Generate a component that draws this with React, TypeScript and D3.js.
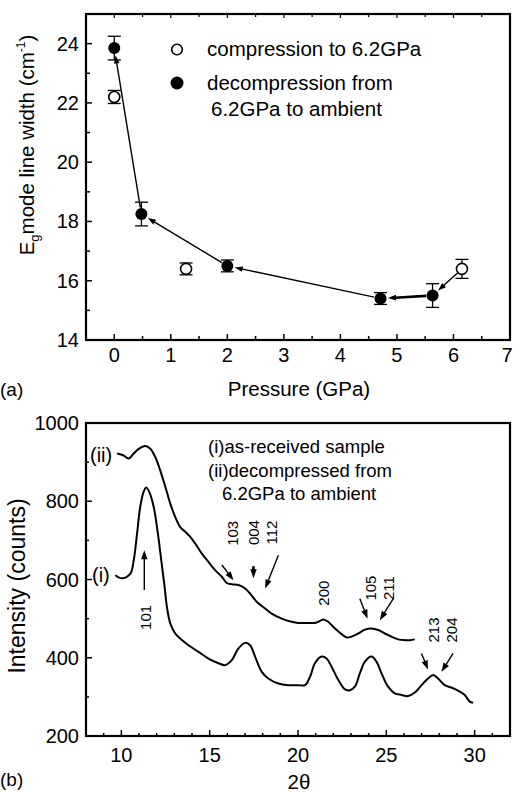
import * as d3 from "d3";
import React from "react";

// (a) E_g line width vs pressure
const pressureOpen = [0, 1.27, 6.15];
const widthOpen = [22.2, 16.4, 16.4];
const errOpen = [0.22, 0.2, 0.32];

const pressureFilled = [0, 0.48, 2.0, 4.71, 5.63];
const widthFilled = [23.85, 18.25, 16.5, 15.4, 15.5];
const errFilled = [0.4, 0.4, 0.2, 0.2, 0.4];

const xTicksA = [0, 1, 2, 3, 4, 5, 6, 7];
const yTicksA = [14, 16, 18, 20, 22, 24];

// (b) XRD patterns
const thetaI = [9.66, 10.04, 10.51, 10.7, 10.89, 11.07, 11.26, 11.41, 11.58, 11.83, 12.07, 12.26, 12.45, 12.58, 12.77, 13.05, 13.33, 13.8, 14.37, 14.93, 15.5, 15.88, 16.25, 16.63, 17.01, 17.29, 17.57, 17.95, 18.32, 18.89, 19.45, 20.02, 20.4, 20.68, 20.96, 21.34, 21.62, 21.9, 22.28, 22.66, 22.94, 23.22, 23.5, 23.79, 24.16, 24.44, 24.73, 25.1, 25.48, 25.86, 26.23, 26.61, 26.99, 27.36, 27.65, 27.93, 28.31, 28.68, 29.06, 29.44, 29.72, 29.91];
const countsI = [611, 603, 615, 649, 717, 786, 824, 835, 824, 786, 717, 649, 581, 530, 488, 462, 449, 432, 415, 398, 386, 381, 394, 424, 438, 432, 403, 364, 347, 334, 330, 330, 330, 351, 386, 403, 398, 377, 343, 319, 317, 326, 360, 390, 403, 390, 360, 326, 309, 305, 302, 311, 330, 347, 356, 347, 330, 324, 316, 305, 288, 285];

const thetaII = [9.76, 10.13, 10.41, 10.7, 10.98, 11.36, 11.64, 11.92, 12.2, 12.49, 12.77, 13.05, 13.33, 13.62, 13.9, 14.18, 14.56, 14.93, 15.31, 15.69, 15.97, 16.25, 16.63, 17.01, 17.29, 17.66, 18.14, 18.51, 19.08, 19.64, 20.02, 20.58, 20.96, 21.24, 21.43, 21.71, 21.99, 22.37, 22.75, 23.03, 23.41, 23.79, 24.16, 24.54, 24.92, 25.29, 25.67, 26.05, 26.33, 26.61];
const countsII = [922, 917, 909, 922, 934, 941, 934, 913, 879, 837, 794, 760, 734, 722, 709, 692, 666, 645, 624, 607, 591, 588, 586, 577, 564, 543, 526, 513, 500, 492, 489, 489, 489, 494, 498, 492, 479, 464, 452, 454, 462, 472, 475, 471, 462, 454, 447, 445, 445, 447];

const xTicksB = [10, 15, 20, 25, 30];
const yTicksB = [200, 400, 600, 800, 1000];

const peakLabels = ["101", "103", "004", "112", "200", "105", "211", "213", "204"];
const peakLabelX = [11.34, 16.28, 17.47, 18.51, 21.43, 24.08, 25.11, 27.66, 28.7];
const peakLabelY = [503, 718, 720, 720, 565, 578, 578, 471, 471];
// arrows: [x1, y1, x2, y2] in data units, head at (x2, y2)
const peakArrows = [
  [11.3, 573, 11.3, 675],
  [15.69, 637, 16.35, 598],
  [17.48, 634, 17.48, 603],
  [18.89, 662, 18.14, 577],
  [23.5, 551, 23.94, 500],
  [25.39, 551, 24.63, 496],
  [26.99, 411, 27.36, 370],
  [28.78, 411, 28.12, 364],
];

const FONT = "'Liberation Sans', Arial, sans-serif";

function arrowHead(x1: number, y1: number, x2: number, y2: number, len = 8, half = 3) {
  const a = Math.atan2(y2 - y1, x2 - x1);
  const bx = x2 - len * Math.cos(a);
  const by = y2 - len * Math.sin(a);
  const px = -Math.sin(a) * half;
  const py = Math.cos(a) * half;
  return `M${x2},${y2}L${bx + px},${by + py}L${bx - px},${by - py}Z`;
}

function Arrow({ x1, y1, x2, y2, w = 1.4, len = 8, half = 3 }: any) {
  const a = Math.atan2(y2 - y1, x2 - x1);
  const ex = x2 - (len - 1) * Math.cos(a);
  const ey = y2 - (len - 1) * Math.sin(a);
  return (
    <g>
      <line x1={x1} y1={y1} x2={ex} y2={ey} stroke="#000" strokeWidth={w} />
      <path d={arrowHead(x1, y1, x2, y2, len, half)} fill="#000" />
    </g>
  );
}

function PanelA() {
  const L = 86, R = 510, T = 14, B = 340;
  const x = d3.scaleLinear().domain([-0.5, 7]).range([L, R]);
  const y = d3.scaleLinear().domain([14, 25]).range([B, T]);
  const minorX = d3.range(-0.5, 7.01, 0.5).filter((v) => !xTicksA.includes(v));
  const minorY = [15, 17, 19, 21, 23, 25];

  const pts = [
    { x: x(pressureOpen[2]), y: y(widthOpen[2]), r: 6 },
    ...[4, 3, 2, 1, 0].map((i) => ({ x: x(pressureFilled[i]), y: y(widthFilled[i]), r: 6.5 })),
  ];
  const arrows = pts.slice(1).map((p, i) => {
    const s = pts[i];
    const a = Math.atan2(p.y - s.y, p.x - s.x);
    return {
      x1: s.x + s.r * Math.cos(a),
      y1: s.y + s.r * Math.sin(a),
      x2: p.x - (p.r + 1) * Math.cos(a),
      y2: p.y - (p.r + 1) * Math.sin(a),
      w: i === 1 ? 2.6 : 1.4,
    };
  });

  const errBar = (px: number, v: number, e: number, k: string) => (
    <g key={k} stroke="#000" strokeWidth={1.3}>
      <line x1={x(px)} x2={x(px)} y1={y(v - e)} y2={y(v + e)} />
      <line x1={x(px) - 6.5} x2={x(px) + 6.5} y1={y(v - e)} y2={y(v - e)} />
      <line x1={x(px) - 6.5} x2={x(px) + 6.5} y1={y(v + e)} y2={y(v + e)} />
    </g>
  );

  return (
    <g fontFamily={FONT}>
      {/* ticks */}
      {xTicksA.map((t) => (
        <g key={"xa" + t}>
          <line x1={x(t)} x2={x(t)} y1={B} y2={B - 6} stroke="#000" strokeWidth={1.5} />
          <line x1={x(t)} x2={x(t)} y1={T} y2={T + 4} stroke="#000" strokeWidth={1.2} />
          <text x={Math.min(x(t), 507)} y={362} fontSize={20} textAnchor="middle">{t}</text>
        </g>
      ))}
      {minorX.map((t) => (
        <g key={"xm" + t}>
          <line x1={x(t)} x2={x(t)} y1={B} y2={B - 4} stroke="#000" strokeWidth={1.5} />
          <line x1={x(t)} x2={x(t)} y1={T} y2={T + 3} stroke="#000" strokeWidth={1.2} />
        </g>
      ))}
      {yTicksA.map((t) => (
        <g key={"ya" + t}>
          <line x1={L} x2={L + 6} y1={y(t)} y2={y(t)} stroke="#000" strokeWidth={1.5} />
          <text x={79} y={y(t) + 7} fontSize={20} textAnchor="end">{t}</text>
        </g>
      ))}
      {minorY.map((t) => (
        <line key={"ym" + t} x1={L} x2={L + 4} y1={y(t)} y2={y(t)} stroke="#000" strokeWidth={1.5} />
      ))}

      {/* arrows */}
      {arrows.map((a, i) => (
        <Arrow key={"ar" + i} {...a} len={8} half={2.8} />
      ))}

      {/* error bars + markers */}
      {pressureOpen.map((p, i) => errBar(p, widthOpen[i], errOpen[i], "eo" + i))}
      {pressureFilled.map((p, i) => errBar(p, widthFilled[i], errFilled[i], "ef" + i))}
      {pressureOpen.map((p, i) => (
        <circle key={"o" + i} cx={x(p)} cy={y(widthOpen[i])} r={5.5} fill="#fff" stroke="#000" strokeWidth={1.6} />
      ))}
      {pressureFilled.map((p, i) => (
        <circle key={"f" + i} cx={x(p)} cy={y(widthFilled[i])} r={6} fill="#000" />
      ))}

      {/* legend */}
      <circle cx={177} cy={49.5} r={5.3} fill="#fff" stroke="#000" strokeWidth={1.6} />
      <circle cx={177} cy={83} r={6.5} fill="#000" />
      <text x={207} y={56} fontSize={20.5}>compression to 6.2GPa</text>
      <text x={207} y={90} fontSize={20.5}>decompression from</text>
      <text x={211} y={116} fontSize={20.5}>6.2GPa to ambient</text>

      {/* frame */}
      <rect x={L} y={T} width={R - L} height={B - T} fill="none" stroke="#000" strokeWidth={2.2} />

      {/* axis titles */}
      <text x={299} y={396} fontSize={20.5} textAnchor="middle">Pressure (GPa)</text>
      <text x={0} y={396} fontSize={19}>(a)</text>
      <text transform="translate(34,145) rotate(-90)" fontSize={20.5} textAnchor="middle">
        E<tspan fontSize={13} dy={5}>g</tspan>
        <tspan dy={-5}>mode line width (cm</tspan>
        <tspan fontSize={12} dy={-9}>-1</tspan>
        <tspan dy={9}>)</tspan>
      </text>
    </g>
  );
}

function PanelB() {
  const L = 86, R = 510, T = 423, B = 736;
  const x = d3.scaleLinear().domain([8, 32]).range([L, R]);
  const y = d3.scaleLinear().domain([200, 1000]).range([B, T]);
  const minorX = d3.range(9, 32, 1).filter((v) => !xTicksB.includes(v));
  const minorY = [300, 500, 700, 900];
  const line = d3
    .line<number>()
    .curve(d3.curveCatmullRom.alpha(0.5));
  const pathI = line(thetaI.map((t, i) => [x(t), y(countsI[i])]) as any);
  const pathII = line(thetaII.map((t, i) => [x(t), y(countsII[i])]) as any);

  return (
    <g fontFamily={FONT}>
      {xTicksB.map((t) => (
        <g key={"xb" + t}>
          <line x1={x(t)} x2={x(t)} y1={B} y2={B - 6} stroke="#000" strokeWidth={1.5} />
          <text x={x(t)} y={762} fontSize={20} textAnchor="middle">{t}</text>
        </g>
      ))}
      {minorX.map((t) => (
        <line key={"xbm" + t} x1={x(t)} x2={x(t)} y1={B} y2={B - 3} stroke="#000" strokeWidth={1.5} />
      ))}
      {yTicksB.map((t) => (
        <g key={"yb" + t}>
          <line x1={L} x2={L + 6} y1={y(t)} y2={y(t)} stroke="#000" strokeWidth={1.5} />
          <text x={79} y={y(t) + 7} fontSize={20} textAnchor="end">{t}</text>
        </g>
      ))}
      {minorY.map((t) => (
        <line key={"ybm" + t} x1={L} x2={L + 3} y1={y(t)} y2={y(t)} stroke="#000" strokeWidth={1.5} />
      ))}

      <path d={pathI as any} fill="none" stroke="#000" strokeWidth={2} strokeLinejoin="round" />
      <path d={pathII as any} fill="none" stroke="#000" strokeWidth={2} strokeLinejoin="round" />

      {peakArrows.map((a, i) => (
        <Arrow key={"pa" + i} x1={x(a[0])} y1={y(a[1])} x2={x(a[2])} y2={y(a[3])} w={i === 2 ? 2.6 : 1.4} len={9} half={3.2} />
      ))}
      {peakLabels.map((s, i) => (
        <text
          key={"pl" + i}
          transform={`translate(${x(peakLabelX[i])},${y(peakLabelY[i])}) rotate(-90)`}
          fontSize={15}
          textAnchor="middle"
          dy={5.5}
        >
          {s}
        </text>
      ))}

      <text x={90} y={462} fontSize={20}>(ii)</text>
      <text x={92} y={582} fontSize={20}>(i)</text>

      <text x={208} y={453} fontSize={18.5}>(i)as-received sample</text>
      <text x={208} y={477} fontSize={18.5}>(ii)decompressed from</text>
      <text x={222} y={500} fontSize={18.5}>6.2GPa to ambient</text>

      <rect x={L} y={T} width={R - L} height={B - T} fill="none" stroke="#000" strokeWidth={2.2} />

      <text x={299} y={789} fontSize={20.5} textAnchor="middle">2θ</text>
      <text x={0} y={786} fontSize={19}>(b)</text>
      <text transform="translate(25,586) rotate(-90)" fontSize={23} textAnchor="middle">Intensity (counts)</text>
    </g>
  );
}

export default function App() {
  return (
    <svg
      width={514}
      height={792}
      style={{ position: "absolute", left: 0, top: 0, background: "#fff" }}
    >
      <rect width={514} height={792} fill="#fff" />
      <PanelA />
      <PanelB />
    </svg>
  );
}
